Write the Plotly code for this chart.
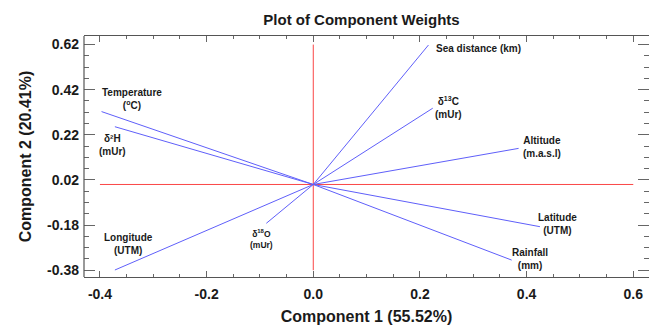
import plotly.graph_objects as go

# ---- data ----
variables = ["Temperature<br>(<sup>o</sup>C)", "δ²H<br>(mUr)", "Sea distance (km)",
             "δ<sup>13</sup>C<br>(mUr)", "Altitude<br>(m.a.s.l)", "Latitude<br>(UTM)",
             "Rainfall<br>(mm)", "Longitude<br>(UTM)", "δ<sup>18</sup>O<br>(mUr)"]
comp1 = [-0.397, -0.372, 0.216, 0.224, 0.385, 0.425, 0.372, -0.372, -0.088]
comp2 = [0.323, 0.256, 0.618, 0.338, 0.160, -0.187, -0.335, -0.379, -0.172]
ref_x = [-0.4, 0.6]
ref_y = [-0.38, 0.62]
x_ticks = [-0.4, -0.2, 0.0, 0.2, 0.4, 0.6]
y_ticks = [0.62, 0.42, 0.22, 0.02, -0.18, -0.38]

# label anchor positions (data coords) and font sizes
label_x = [-0.339, -0.377, 0.310, 0.254, 0.429, 0.457, 0.406, -0.347, -0.097]
label_y = [0.379, 0.177, 0.603, 0.341, 0.167, -0.176, -0.329, -0.262, -0.243]
label_size = [10, 10, 10, 10, 10, 10, 10, 10, 8.5]

BLUE = "rgb(95,95,250)"
RED = "rgb(250,70,70)"
FONT = "Liberation Sans, Arial, sans-serif"
AXC = "#555"

fig = go.Figure()
fig.add_trace(go.Scatter(x=ref_x, y=[0, 0], mode="lines",
                         line=dict(color=RED, width=1), hoverinfo="skip"))
fig.add_trace(go.Scatter(x=[0, 0], y=ref_y, mode="lines",
                         line=dict(color=RED, width=1), hoverinfo="skip"))
for name, xv, yv in zip(variables, comp1, comp2):
    fig.add_trace(go.Scatter(x=[0, xv], y=[0, yv], mode="lines",
                             line=dict(color=BLUE, width=1), name=name))

for name, lx, ly, s in zip(variables, label_x, label_y, label_size):
    fig.add_annotation(x=lx, y=ly, text="<b>" + name + "</b>", showarrow=False,
                       font=dict(family=FONT, size=s, color="#1a1a1a"),
                       xanchor="center", yanchor="middle", align="center")

# left axis line (right side is cropped in the original, so no mirrored line)
fig.add_shape(type="line", xref="paper", yref="paper", x0=0, x1=0, y0=0, y1=1,
              line=dict(color=AXC, width=1.2))

fig.update_layout(
    width=649, height=326,
    margin=dict(l=84, r=0, t=36, b=49),
    paper_bgcolor="white", plot_bgcolor="white",
    showlegend=False,
    font=dict(family=FONT, color="#1a1a1a"),
    title=dict(text="<b>Plot of Component Weights</b>", x=0.557, xanchor="center",
               y=0.94, yanchor="middle", font=dict(family=FONT, size=15, color="#1a1a1a")),
)
fig.update_xaxes(
    range=[-0.4299, 0.6295], showgrid=False, zeroline=False,
    showline=True, linecolor=AXC, linewidth=1.2, mirror="ticks",
    ticks="inside", ticklen=6, tickcolor="#666", tickwidth=1,
    tickvals=x_ticks, ticktext=["<b>%.1f</b>" % v for v in x_ticks],
    tickfont=dict(family=FONT, size=14, color="#1a1a1a"),
    minor=dict(dtick=0.05, tick0=0, ticks="inside", ticklen=3, tickcolor="#666"),
    title=dict(text="<b>Component 1 (55.52%)</b>", standoff=9,
               font=dict(family=FONT, size=16, color="#1a1a1a")),
    ticklabelstandoff=4,
)
fig.update_yaxes(
    range=[-0.410, 0.658], showgrid=False, zeroline=False,
    showline=False, mirror="ticks",
    ticks="inside", ticklen=11, tickcolor="#666", tickwidth=1,
    tickvals=y_ticks, ticktext=["<b>%.2f</b>" % v for v in y_ticks],
    tickfont=dict(family=FONT, size=14, color="#1a1a1a"),
    minor=dict(dtick=0.05, tick0=0.02, ticks="inside", ticklen=5, tickcolor="#666"),
    title=dict(text="<b>Component 2 (20.41%)</b>", standoff=11,
               font=dict(family=FONT, size=16, color="#1a1a1a")),
    ticklabelstandoff=4,
)

fig.write_html("out.html")
